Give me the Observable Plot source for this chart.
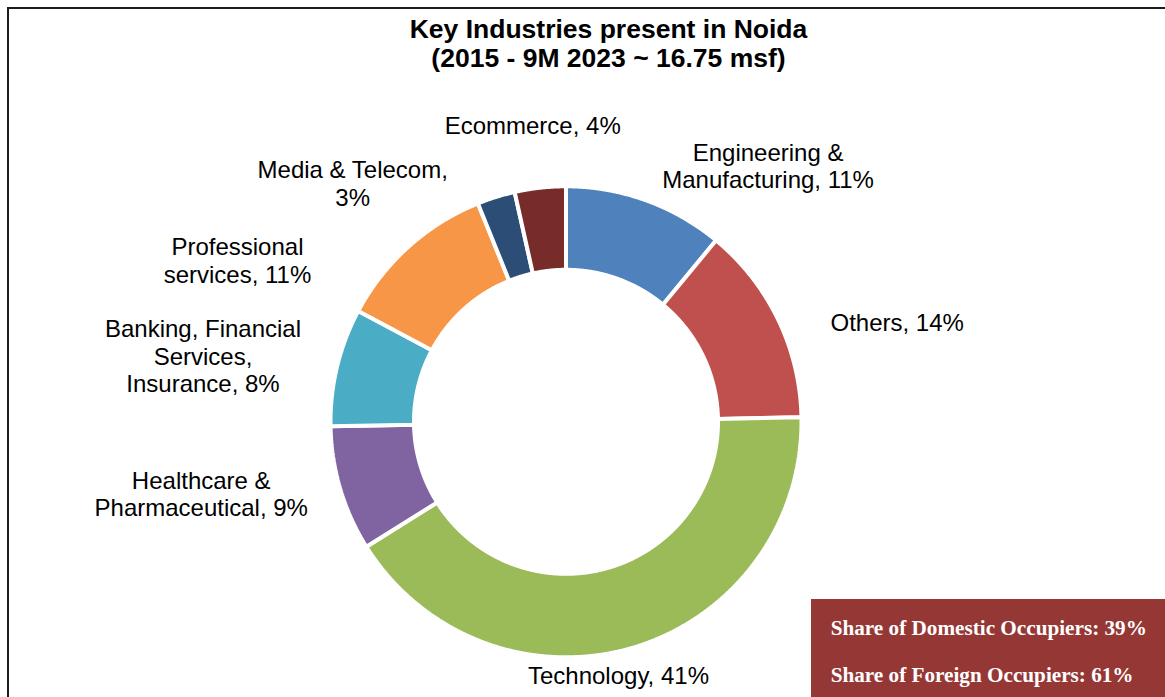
<!DOCTYPE html>
<html>
<head>
<meta charset="utf-8">
<script src="https://cdn.jsdelivr.net/npm/d3@7"></script>
<script src="https://cdn.jsdelivr.net/npm/@observablehq/plot@0.6"></script>
<style>
  html, body { margin: 0; padding: 0; background: #fff; overflow: hidden; }
  #page { position: relative; width: 1165px; height: 697px; overflow: hidden; }
  #frame { position: absolute; left: 7px; top: 7px; width: 2000px; height: 2000px;
           border-left: 2px solid #1c1c1c; border-top: 2px solid #1c1c1c; box-sizing: border-box; }
  #chart { position: absolute; left: 0; top: 0; }
  #title { position: absolute; left: 0; top: 14.6px; width: 1217px; text-align: center;
           font-family: "Liberation Sans", Arial, sans-serif; font-weight: bold; font-size: 26.5px;
           line-height: 29px; color: #000; }
  #note { position: absolute; left: 811px; top: 599px; width: 354px; height: 98px; background: #953735; }
  #note div { position: absolute; left: 19.7px; font-family: "Liberation Serif", "Times New Roman", serif;
              font-weight: bold; font-size: 21.2px; line-height: 24px; color: #fff; white-space: nowrap; }
</style>
</head>
<body>
<div id="page">
  <div id="frame"></div>
  <div id="chart"></div>
  <div id="title"></div>
  <div id="note"></div>
</div>
<script>
// ---- data ----
const industries = [
  "Engineering & Manufacturing",
  "Others",
  "Technology",
  "Healthcare & Pharmaceutical",
  "Banking, Financial Services, Insurance",
  "Professional services",
  "Media & Telecom",
  "Ecommerce"
];
const shares = [11.0, 13.7, 41.4, 8.6, 8.1, 11.1, 2.6, 3.5];
const labelTexts = [
  "Engineering &\nManufacturing, 11%",
  "Others, 14%",
  "Technology, 41%",
  "Healthcare &\nPharmaceutical, 9%",
  "Banking, Financial\nServices,\nInsurance, 8%",
  "Professional\nservices, 11%",
  "Media & Telecom,\n3%",
  "Ecommerce, 4%"
];
const sliceColors = ["#4F81BD", "#C0504D", "#9BBB59", "#8064A2", "#4BACC6", "#F79646", "#2C4D75", "#772C2A"];
const titleLines = ["Key Industries present in Noida", "(2015 - 9M 2023 ~ 16.75 msf)"];
const noteLines = ["Share of Domestic Occupiers: 39%", "Share of Foreign Occupiers: 61%"];

// ---- layout (pixels) ----
const W = 1165, H = 697;
const cx = 566, cy = 421.8;
const rOut = 235.5, rIn = 152;
const labelR = 235;
// manual label nudges (label dragged away from slice edge), in px: [dx, dy(down)]
const labelNudge = [[122, -35.5], [119, 1.5], [-15, 27.5], [-140, 4.5], [-135, -11.5], [-172, 12.5], [-144, -14.5], [-8, -63.5]];

// ---- build geometry from data ----
const total = d3.sum(shares);
let acc = 0;
const slices = industries.map((name, i) => {
  const a0 = acc / total * 2 * Math.PI;
  acc += shares[i];
  const a1 = acc / total * 2 * Math.PI;
  return {name, i, a0, a1, mid: (a0 + a1) / 2};
});
const ring = slices.flatMap(s => {
  const n = Math.max(2, Math.ceil((s.a1 - s.a0) / 0.004));
  return d3.range(n + 1).map(k => {
    const t = s.a0 + (s.a1 - s.a0) * k / n;
    return {name: s.name,
      x1: rIn * Math.sin(t), y1: rIn * Math.cos(t),
      x2: rOut * Math.sin(t), y2: rOut * Math.cos(t)};
  });
});
const labels = slices.map(s => ({
  text: labelTexts[s.i],
  x: labelR * Math.sin(s.mid) + labelNudge[s.i][0],
  y: labelR * Math.cos(s.mid) - labelNudge[s.i][1]
}));

const chart = Plot.plot({
  width: W, height: H,
  marginTop: 0, marginRight: 0, marginBottom: 0, marginLeft: 0,
  style: {background: "transparent", overflow: "visible"},
  x: {domain: [-cx, W - cx], axis: null},
  y: {domain: [-(H - cy), cy], axis: null},
  color: {domain: industries, range: sliceColors},
  marks: [
    Plot.area(ring, {x1: "x1", y1: "y1", x2: "x2", y2: "y2", z: "name", fill: "name",
      stroke: "white", strokeWidth: 4, strokeLinejoin: "miter", curve: "linear"}),
    Plot.text(labels, {x: "x", y: "y", text: "text", textAnchor: "middle", lineAnchor: "middle",
      lineHeight: 1.15, fontSize: 24, fontFamily: "Liberation Sans, Arial, sans-serif", fill: "#000"})
  ]
});
document.getElementById("chart").appendChild(chart);

document.getElementById("title").innerHTML = titleLines.join("<br>");
const note = document.getElementById("note");
noteLines.forEach((t, i) => {
  const d = document.createElement("div");
  d.textContent = t;
  d.style.top = (i === 0 ? 17 : 64) + "px";
  note.appendChild(d);
});
</script>
</body>
</html>
